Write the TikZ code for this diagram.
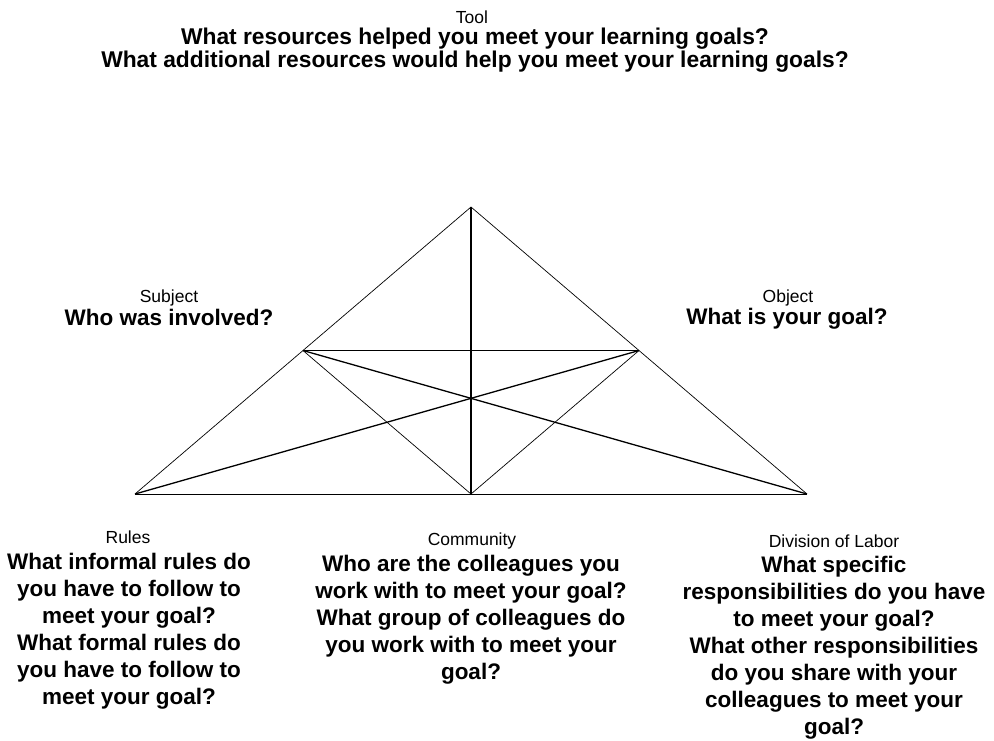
\documentclass[tikz,border=0pt]{standalone}
\usepackage{fontspec}
\setmainfont{Liberation Sans}
\usetikzlibrary{positioning,calc}
\tikzset{
  lbl/.style={font=\fontsize{17.5}{20}\selectfont, inner sep=0pt, anchor=base},
  qst/.style={font=\bfseries\fontsize{22.5}{27}\selectfont, align=center, inner sep=0pt, anchor=north},
  side/.style={line width=0.7pt},
  med/.style={line width=1.3pt}
}
\begin{document}
\begin{tikzpicture}[x=1pt,y=-1pt]
\useasboundingbox (0,0) rectangle (994,740);
% corners of the triangle
\coordinate (apex) at (471,207);
\coordinate (bl) at (135,494);
\coordinate (br) at (807,494);
\coordinate (ml) at ($(apex)!0.5!(bl)$);
\coordinate (mr) at ($(apex)!0.5!(br)$);
\coordinate (mb) at ($(bl)!0.5!(br)$);
% outline and inner lines
\draw[side] (apex) -- (bl);
\draw[side] (apex) -- (br);
\draw[line width=1pt] (bl) -- (br);
\draw[side] (ml) -- (mb);
\draw[side] (mr) -- (mb);
\draw[med] (apex) -- (mb);
\draw[med] (ml) -- (mr);
\draw[med] (ml) -- (br);
\draw[med] (mr) -- (bl);
% top
\node[lbl] (tool) at (472,23) {Tool};
\node[qst, font=\bfseries\fontsize{22.8}{23}\selectfont] (toolq) at (475,27.5)
  {What resources helped you meet your learning goals?\\
   What additional resources would help you meet your learning goals?};
% left and right
\node[lbl] (subj) at (169,302) {Subject};
\node[qst] (subjq) at (169,308.5) {Who was involved?};
\node[lbl] (obj) at (788,302) {Object};
\node[qst] (objq) at (787,308) {What is your goal?};
% bottom
\node[lbl] (rules) at (128,543) {Rules};
\node[qst] (rulesq) at (129,553)
  {What informal rules do\\ you have to follow to\\ meet your goal?\\
   What formal rules do\\ you have to follow to\\ meet your goal?};
\node[lbl] (comm) at (472,545) {Community};
\node[qst] (commq) at (471,555)
  {Who are the colleagues you\\ work with to meet your goal?\\
   What group of colleagues do\\ you work with to meet your\\ goal?};
\node[lbl] (div) at (834,547) {Division of Labor};
\node[qst] (divq) at (834,556)
  {What specific\\ responsibilities do you have\\ to meet your goal?\\
   What other responsibilities\\ do you share with your\\ colleagues to meet your\\ goal?};
\end{tikzpicture}
\end{document}
